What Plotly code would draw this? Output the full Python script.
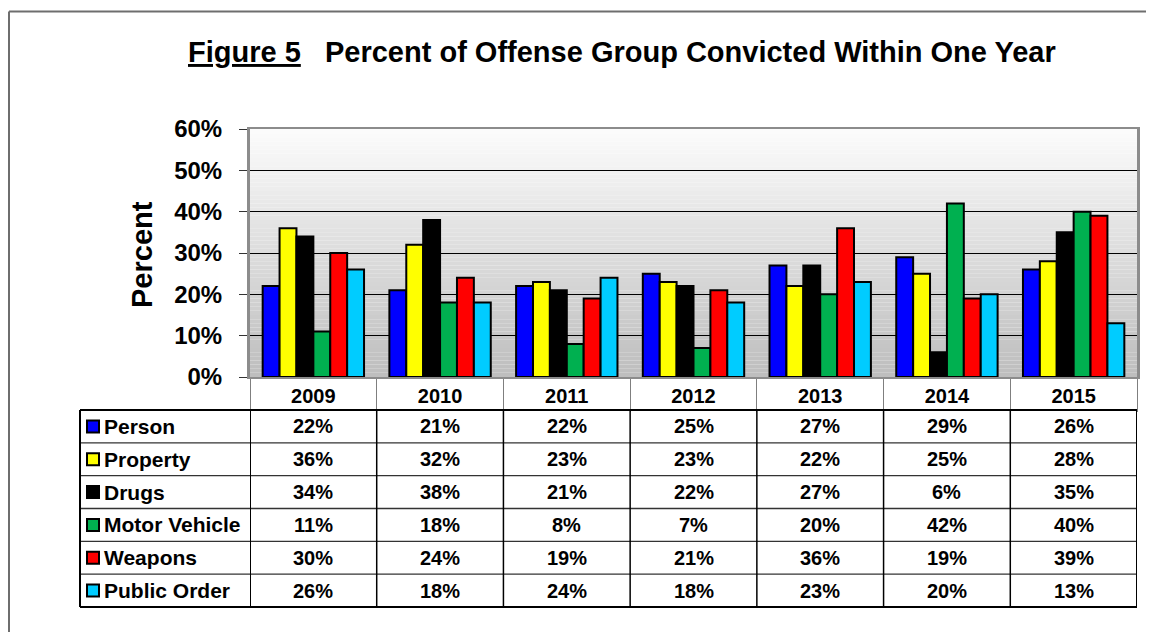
import plotly.graph_objects as go

years = ["2009", "2010", "2011", "2012", "2013", "2014", "2015"]
groups = ["Person", "Property", "Drugs", "Motor Vehicle", "Weapons", "Public Order"]
person = [22, 21, 22, 25, 27, 29, 26]
property_ = [36, 32, 23, 23, 22, 25, 28]
drugs = [34, 38, 21, 22, 27, 6, 35]
motor_vehicle = [11, 18, 8, 7, 20, 42, 40]
weapons = [30, 24, 19, 21, 36, 19, 39]
public_order = [26, 18, 24, 18, 23, 20, 13]
series = [person, property_, drugs, motor_vehicle, weapons, public_order]
colors = ["#0000FF", "#FFFF00", "#000000", "#00B050", "#FF0000", "#00CCFF"]
y_ticks = [0, 10, 20, 30, 40, 50, 60]
y_ticktext = ["0%", "10%", "20%", "30%", "40%", "50%", "60%"]
title_a = "Figure 5"
title_b = "Percent of Offense Group Convicted Within One Year"
y_title = "Percent"

OFF = 8  # page body margin
W, H = 1154 - OFF, 632 - OFF
FONT = "Arial, 'Liberation Sans', sans-serif"


def fx(px):
    return (px - OFF) / W


def fy(py):
    return 1 - (py - OFF) / H


PL, PR, PT, PB = 250, 1137, 129, 377
TBL_L, TBL_T, TBL_B = 80, 410, 607
ROW_H = (TBL_B - TBL_T) / len(groups)

fig = go.Figure()
for name, vals, col in zip(groups, series, colors):
    fig.add_trace(go.Bar(
        x=years, y=vals, name=name,
        marker=dict(color=col, line=dict(color="black", width=2)),
        showlegend=False,
    ))

shapes = []
# gradient background
n_bands = 60
for i in range(n_bands):
    t = i / (n_bands - 1)
    v = int(round(251 - (251 - 190) * t))
    shapes.append(dict(
        type="rect", xref="x domain", yref="y domain",
        x0=0, x1=1, y0=1 - (i + 1) / n_bands, y1=1 - i / n_bands,
        fillcolor=f"rgb({v},{v},{v})", line=dict(width=0), layer="below",
    ))

# outer frame
shapes.append(dict(type="line", xref="paper", yref="paper", x0=fx(9), x1=fx(1170),
                   y0=fy(11.5), y1=fy(11.5), line=dict(color="#6e6e6e", width=2)))
shapes.append(dict(type="line", xref="paper", yref="paper", x0=fx(9), x1=fx(9),
                   y0=fy(11.5), y1=fy(660), line=dict(color="#6e6e6e", width=2)))

# table horizontal lines
for r in range(len(groups) + 1):
    yy = TBL_T + r * ROW_H
    outer = r in (0, len(groups))
    shapes.append(dict(type="line", xref="paper", yref="paper",
                       x0=fx(TBL_L), x1=fx(PR), y0=fy(yy), y1=fy(yy),
                       line=dict(color="black" if outer else "#333333",
                                 width=2 if outer else 1.3)))
# table vertical lines
shapes.append(dict(type="line", xref="paper", yref="paper", x0=fx(TBL_L), x1=fx(TBL_L),
                   y0=fy(TBL_T), y1=fy(TBL_B), line=dict(color="black", width=2)))
for i in range(len(years) + 1):
    xv = i - 0.5
    edge = i in (0, len(years))
    shapes.append(dict(type="line", xref="x", yref="paper", x0=xv, x1=xv,
                       y0=fy(TBL_T), y1=fy(TBL_B),
                       line=dict(color="black", width=2 if edge else 1.5)))

annotations = []
# legend keys + labels
for r, (name, col) in enumerate(zip(groups, colors)):
    cy = TBL_T + (r + 0.5) * ROW_H
    shapes.append(dict(type="rect", xref="paper", yref="paper",
                       x0=fx(87), x1=fx(99), y0=fy(cy - 6), y1=fy(cy + 6),
                       fillcolor=col, line=dict(color="black", width=2)))
    annotations.append(dict(text=f"<b>{name}</b>", xref="paper", yref="paper",
                            x=fx(102), y=fy(cy), xanchor="left", yanchor="middle",
                            showarrow=False, font=dict(family=FONT, size=21, color="black")))
    for j, yr in enumerate(years):
        annotations.append(dict(text=f"<b>{series[r][j]}%</b>", xref="x", yref="paper",
                                x=j, y=fy(cy), xanchor="center", yanchor="middle",
                                showarrow=False,
                                font=dict(family=FONT, size=20, color="black")))

# title
annotations.append(dict(
    text=f"<b><u>{title_a}</u>\u00a0\u00a0\u00a0{title_b}</b>",
    xref="paper", yref="paper", x=fx(622), y=fy(52), xanchor="center", yanchor="middle",
    showarrow=False, font=dict(family=FONT, size=29, color="black")))
# y title
annotations.append(dict(
    text=f"<b>{y_title}</b>", xref="paper", yref="paper", x=fx(142), y=fy(255),
    xanchor="center", yanchor="middle", textangle=-90, showarrow=False,
    font=dict(family=FONT, size=29, color="black")))

fig.update_layout(
    width=W, height=H,
    margin=dict(l=0, r=0, t=0, b=0, autoexpand=False),
    paper_bgcolor="white", plot_bgcolor="rgba(0,0,0,0)",
    barmode="group", bargap=0.2, bargroupgap=0,
    shapes=shapes, annotations=annotations,
    xaxis=dict(
        domain=[fx(PL), fx(PR)], type="category", range=[-0.5, len(years) - 0.5],
        automargin=False,
        tickvals=years, ticktext=[f"<b>{y}</b>" for y in years], tickangle=0,
        showline=True, linecolor="#8c8c8c", linewidth=2, mirror=True,
        ticks="outside", tickson="boundaries", ticklen=33, tickcolor="#7f7f7f", tickwidth=1,
        tickfont=dict(family=FONT, size=20, color="black"),
        showgrid=False, fixedrange=True,
    ),
    yaxis=dict(
        domain=[fy(PB), fy(PT)], range=[0, 60], automargin=False,
        tickvals=y_ticks, ticktext=[f"<b>{t}</b>" for t in y_ticktext],
        ticks="outside", ticklen=8, tickcolor="#333333", tickwidth=1,
        ticklabelstandoff=12,
        tickfont=dict(family=FONT, size=24, color="black"),
        showgrid=True, gridcolor="black", gridwidth=1,
        showline=True, linecolor="#8c8c8c", linewidth=3, mirror=True,
        zeroline=False, fixedrange=True,
    ),
)

fig.write_html("out.html")
